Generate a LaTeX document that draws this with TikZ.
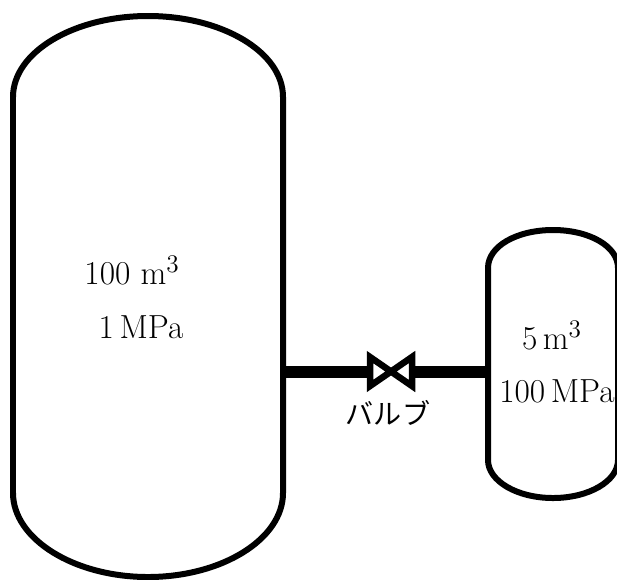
\documentclass[tikz,border=0pt]{standalone}
\usepackage{fontspec}
\usepackage{amsmath}
\usepackage{tikz}
\newfontfamily\jpfont{Noto Sans CJK JP}
\usetikzlibrary{calc}

\begin{document}
\begin{tikzpicture}[x=0.02cm, y=-0.02cm,
  tank/.style={line width=0.12cm},
  pipe/.style={line width=0.24cm},
  valvebody/.style={line width=0.13cm, fill=white, miter limit=10},
  every node/.style={font=\fontsize{19}{23}\selectfont, inner sep=0pt, anchor=base}]
  \useasboundingbox (0,0) rectangle (617,579);
  % tanks
  \draw[tank] (13,97) .. controls (13,52) and (74,16) .. (148,16)
    .. controls (222,16) and (283,52) .. (283,97) -- (283,493)
    .. controls (283,539) and (222,577) .. (148,577)
    .. controls (74,577) and (13,539) .. (13,493) -- cycle;
  \draw[tank] (488,268) .. controls (488,246) and (517,230) .. (553,230)
    .. controls (589,230) and (618,246) .. (618,268) -- (618,460)
    .. controls (618,481) and (589,498) .. (553,498)
    .. controls (517,498) and (488,481) .. (488,460) -- cycle;
  % pipe and valve
  \coordinate (bigport) at (283,372);
  \coordinate (smallport) at (488,372);
  \coordinate (valvein) at (370,372);
  \coordinate (valveout) at (412,372);
  \draw[pipe] (bigport) -- (valvein);
  \draw[pipe] (valveout) -- (smallport);
  \draw[valvebody] (370,357) -- (370,386) -- (412,357) -- (412,386) -- cycle;
  % labels
  \node (bigvol) at (132,284) {100 m$^3$};
  \node (bigpress) at (141,338) {1\,MPa};
  \node (smallvol) at (552,349) {5\,m$^3$};
  \node (smallpress) at (557,402) {100\,MPa};
  \node[font=\fontsize{16}{19}\selectfont\jpfont] (valvelabel) at (388,424) {バルブ};
\end{tikzpicture}
\end{document}
